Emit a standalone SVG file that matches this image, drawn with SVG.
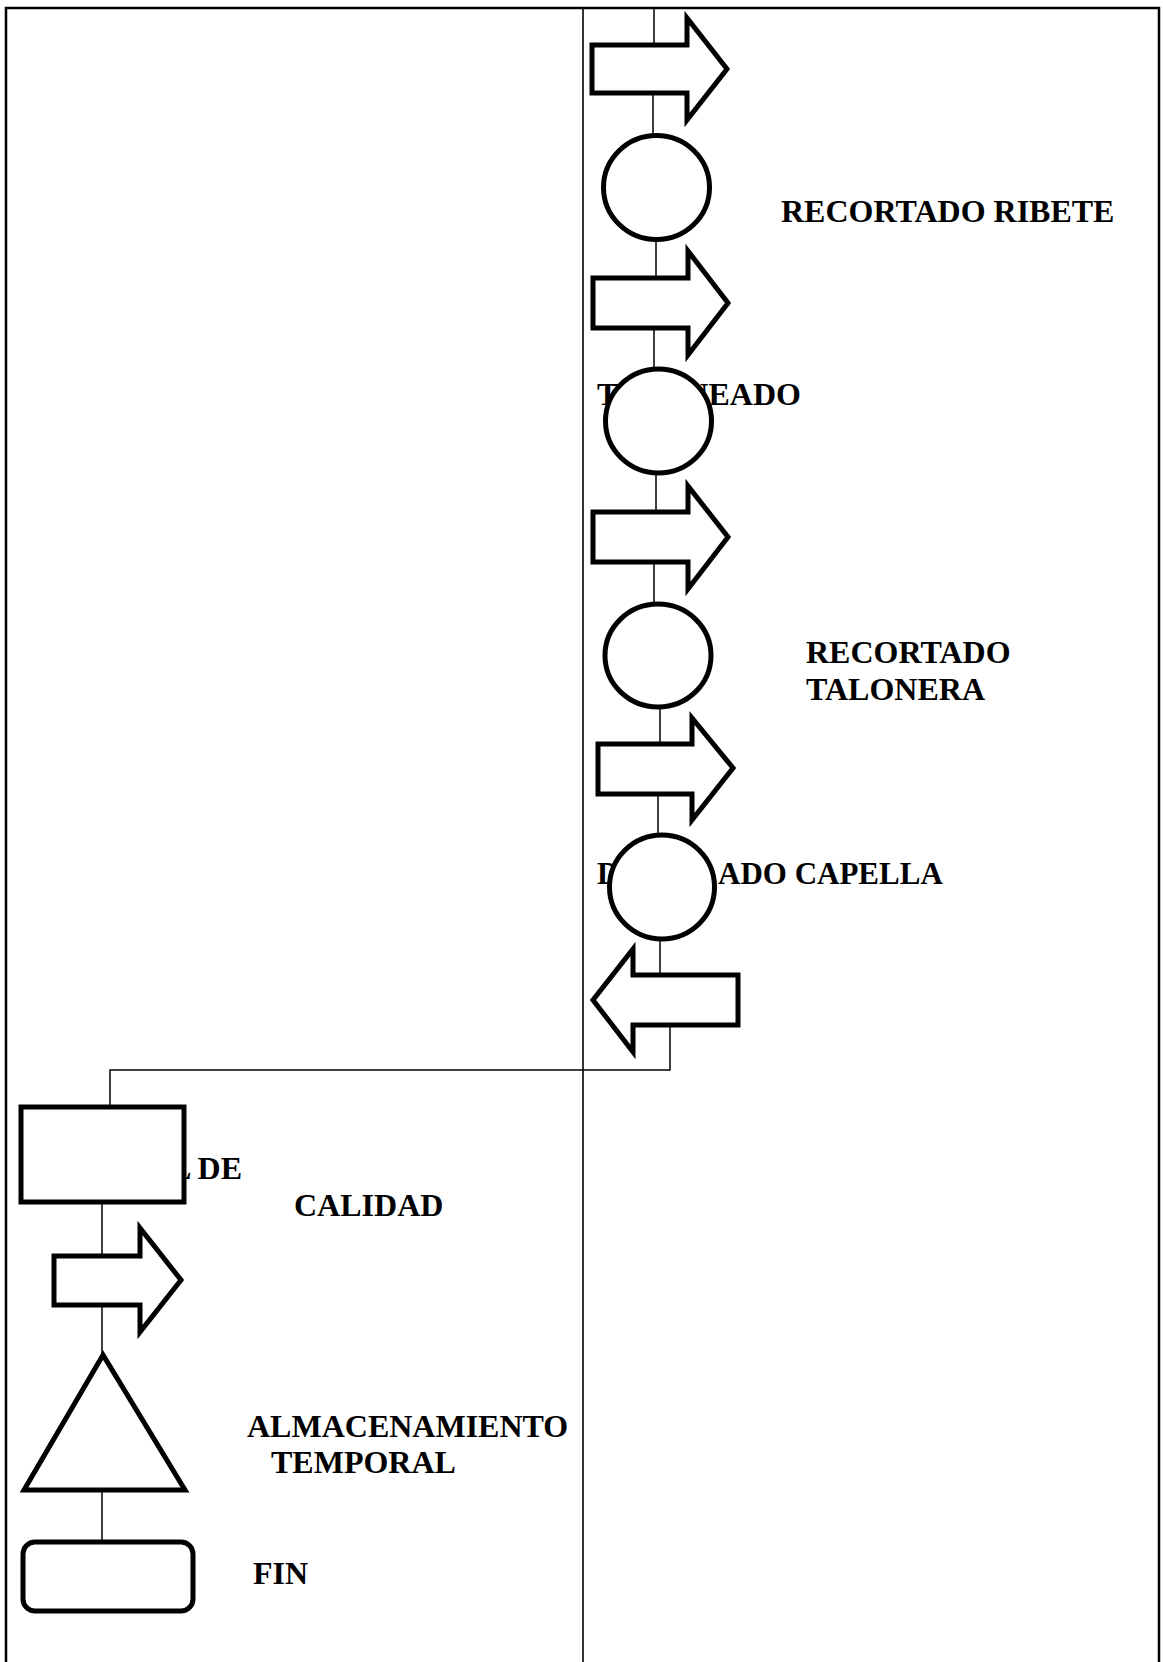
<svg xmlns="http://www.w3.org/2000/svg" width="1163" height="1662" viewBox="0 0 1163 1662">
<style>
.shape{fill:#fff;stroke:#000;stroke-width:5;stroke-linejoin:miter}
.conn{fill:none;stroke:#000;stroke-width:1.5}
.frame{fill:none;stroke:#000;stroke-width:2.5}
.lbl{font-family:"Liberation Serif","Times New Roman",serif;font-weight:bold;font-size:32px;fill:#000}
</style>
<rect x="0" y="0" width="1163" height="1662" fill="#fff"/>
<g id="frame">
<path class="frame" d="M6,1662 V8 H1159 V1662"/>
<line x1="583" y1="8" x2="583" y2="1662" stroke="#000" stroke-width="1.6"/>
</g>
<g id="connectors">
<line class="conn" x1="654" y1="8" x2="654" y2="45"/>
<line class="conn" x1="653" y1="93" x2="653" y2="134"/>
<line class="conn" x1="656" y1="239" x2="656" y2="278"/>
<line class="conn" x1="654" y1="328" x2="654" y2="369"/>
<line class="conn" x1="656" y1="472" x2="656" y2="512"/>
<line class="conn" x1="654" y1="562" x2="654" y2="603"/>
<line class="conn" x1="660" y1="708" x2="660" y2="744"/>
<line class="conn" x1="658" y1="794" x2="658" y2="835"/>
<line class="conn" x1="660" y1="939" x2="660" y2="975"/>
<polyline class="conn" points="670,1027 670,1070 110,1070 110,1105"/>
<line class="conn" x1="102" y1="1204" x2="102" y2="1256"/>
<line class="conn" x1="102" y1="1305" x2="102" y2="1353"/>
<line class="conn" x1="102" y1="1492" x2="102" y2="1540"/>
</g>
<g id="move1"><polygon class="shape" points="592,45 687,45 687,18 727,69 687,120 687,93 592,93"/></g>
<g id="op-recortado-ribete">
<ellipse class="shape" cx="656.5" cy="187.5" rx="53" ry="52"/>
<text class="lbl" x="781" y="222">RECORTADO RIBETE</text>
</g>
<g id="move2"><polygon class="shape" points="593,278 688,278 688,251 728,303 688,355 688,328 593,328"/></g>
<g id="op-taloneado">
<text class="lbl" x="597" y="405">TALONEADO</text>
<ellipse class="shape" cx="658.5" cy="421" rx="53" ry="52"/>
</g>
<g id="move3"><polygon class="shape" points="593,512 688,512 688,486 728,537 688,589 688,562 593,562"/></g>
<g id="op-recortado-talonera">
<ellipse class="shape" cx="658" cy="655.5" rx="53" ry="51.5"/>
<text class="lbl" x="806" y="663">RECORTADO</text>
<text class="lbl" x="806" y="700">TALONERA</text>
</g>
<g id="move4"><polygon class="shape" points="598,744 692,744 692,718 733,768 692,820 692,794 598,794"/></g>
<g id="op-capella">
<text class="lbl" x="597" y="884" style="font-size:31px">DESVIR<tspan x="718">ADO CAPELLA</tspan></text>
<ellipse class="shape" cx="662" cy="887" rx="52.5" ry="52"/>
</g>
<g id="move5"><polygon class="shape" points="738,975 633,975 633,949 593,1000 633,1052 633,1025 738,1025"/></g>
<g id="control-calidad">
<text class="lbl" x="242" y="1179" text-anchor="end">CONTROL DE</text>
<rect class="shape" x="21" y="1107" width="163" height="95"/>
<text class="lbl" x="294" y="1216">CALIDAD</text>
</g>
<g id="move6"><polygon class="shape" points="54,1256 140,1256 140,1228 181,1280 140,1332 140,1305 54,1305"/></g>
<g id="almacenamiento">
<polygon class="shape" points="103,1355 24,1490 185,1490"/>
<text class="lbl" x="247" y="1437">ALMACENAMIENTO</text>
<text class="lbl" x="271" y="1473">TEMPORAL</text>
</g>
<g id="fin">
<rect class="shape" x="23" y="1542" width="170" height="69" rx="12" ry="12"/>
<text class="lbl" x="253" y="1584">FIN</text>
</g>
</svg>
